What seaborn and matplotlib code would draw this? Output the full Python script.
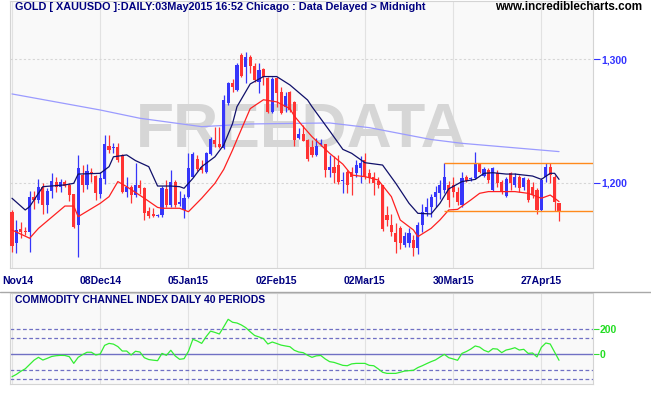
import numpy as np
import pandas as pd
import matplotlib
matplotlib.use("Agg")
import matplotlib.pyplot as plt
import matplotlib.transforms as mtransforms
from matplotlib.lines import Line2D
import seaborn as sns

# daily candles, Nov 2014 - May 2015 (one per trading day)
opens = [1176.5, 1151.4, 1162.5, 1161.0, 1160.3, 1188.7, 1186.0, 1196.8, 1182.0, 1193.3,
         1200.9, 1196.8, 1200.9, 1198.2, 1190.9, 1165.7, 1206.2, 1198.2, 1209.0, 1205.4,
         1190.6, 1203.0, 1229.7, 1227.9, 1228.7, 1222.4, 1192.8, 1196.8, 1190.0, 1198.2,
         1195.5, 1177.4, 1174.4, 1173.1, 1173.8, 1194.9, 1182.0, 1200.9, 1183.0, 1178.0,
         1188.7, 1204.9, 1219.0, 1213.0, 1209.0, 1223.3, 1234.6, 1231.4, 1228.0, 1264.3,
         1281.0, 1275.0, 1303.4, 1294.0, 1301.6, 1294.5, 1281.9, 1291.8, 1284.6, 1257.6,
         1284.6, 1273.8, 1261.6, 1273.8, 1265.6, 1236.0, 1239.5, 1234.6, 1228.7, 1222.4,
         1231.0, 1231.0, 1210.3, 1213.0, 1214.3, 1201.4, 1209.0, 1209.0, 1207.6, 1211.6,
         1218.4, 1207.6, 1204.9, 1201.7, 1198.2, 1173.9, 1165.7, 1159.0, 1163.0, 1149.6,
         1150.9, 1153.6, 1146.9, 1165.7, 1176.5, 1180.6, 1188.7, 1191.4, 1194.1, 1198.2,
         1198.2, 1192.8, 1182.0, 1204.4, 1203.3, 1203.5, 1215.7, 1205.4, 1210.3, 1194.1,
         1207.6, 1200.9, 1189.2, 1208.1, 1198.2, 1204.9, 1196.8, 1202.2, 1196.8, 1194.1,
         1177.9, 1204.9, 1213.0, 1204.9, 1183.8]
highs = [1177.5, 1169.8, 1168.5, 1164.4, 1193.3, 1193.3, 1202.7, 1199.5, 1196.0, 1208.1,
         1204.9, 1202.7, 1202.2, 1199.5, 1191.0, 1222.5, 1214.3, 1214.9, 1211.6, 1206.2,
         1209.0, 1238.6, 1238.6, 1231.9, 1231.9, 1223.3, 1204.9, 1198.2, 1215.7, 1202.2,
         1196.8, 1180.6, 1179.3, 1175.0, 1197.3, 1202.0, 1210.3, 1202.2, 1193.0, 1191.0,
         1223.8, 1225.2, 1222.4, 1218.4, 1225.2, 1237.3, 1244.9, 1244.9, 1271.0, 1281.9,
         1283.7, 1296.7, 1304.8, 1306.2, 1303.5, 1297.2, 1296.7, 1292.6, 1285.4, 1285.4,
         1285.4, 1277.8, 1273.8, 1274.5, 1266.0, 1244.0, 1246.8, 1235.1, 1234.6, 1236.0,
         1235.0, 1231.5, 1222.4, 1222.0, 1222.4, 1209.0, 1210.3, 1213.0, 1218.0, 1222.0,
         1224.0, 1211.0, 1209.0, 1205.0, 1198.5, 1181.0, 1175.0, 1167.0, 1165.0, 1160.0,
         1163.0, 1158.0, 1168.0, 1183.0, 1188.0, 1191.0, 1197.0, 1202.0, 1216.0, 1201.0,
         1204.9, 1196.8, 1209.0, 1206.2, 1204.4, 1225.2, 1216.2, 1213.0, 1211.6, 1213.0,
         1210.3, 1202.2, 1204.9, 1209.0, 1207.6, 1206.2, 1204.9, 1203.5, 1200.9, 1195.5,
         1203.5, 1215.7, 1215.7, 1206.2, 1183.8]
lows = [1144.1, 1142.8, 1155.0, 1157.7, 1144.0, 1178.5, 1183.3, 1174.7, 1175.2, 1187.4,
        1192.8, 1192.8, 1196.3, 1185.5, 1163.6, 1139.6, 1192.8, 1194.6, 1200.9, 1186.0,
        1187.4, 1199.0, 1223.8, 1223.8, 1217.0, 1191.4, 1188.7, 1183.8, 1188.7, 1191.0,
        1169.8, 1171.2, 1172.0, 1172.0, 1172.5, 1180.6, 1180.6, 1180.6, 1181.0, 1171.2,
        1187.4, 1204.4, 1209.8, 1208.1, 1208.1, 1222.4, 1229.2, 1227.9, 1227.0, 1263.0,
        1273.8, 1274.5, 1285.9, 1280.5, 1288.6, 1281.9, 1273.0, 1279.2, 1256.7, 1256.7,
        1261.6, 1255.8, 1257.6, 1257.6, 1229.7, 1235.1, 1234.1, 1217.9, 1221.1, 1222.0,
        1229.7, 1204.9, 1204.9, 1200.0, 1199.0, 1191.4, 1191.4, 1190.0, 1205.0, 1200.0,
        1203.0, 1200.0, 1190.0, 1196.0, 1161.0, 1165.0, 1157.0, 1143.0, 1146.0, 1148.0,
        1148.0, 1141.0, 1142.0, 1160.0, 1173.0, 1172.0, 1180.0, 1187.0, 1192.0, 1180.0,
        1188.7, 1182.0, 1180.6, 1200.9, 1201.7, 1202.7, 1208.1, 1204.9, 1199.5, 1193.6,
        1196.8, 1190.9, 1188.7, 1194.1, 1196.8, 1192.8, 1194.1, 1184.7, 1187.4, 1174.7,
        1177.4, 1200.9, 1199.5, 1177.4, 1169.3]
closes = [1148.7, 1161.7, 1160.3, 1160.0, 1188.7, 1186.0, 1196.8, 1182.0, 1193.3, 1201.4,
          1196.8, 1200.9, 1197.3, 1190.0, 1164.4, 1211.6, 1198.2, 1209.5, 1206.8, 1191.4,
          1203.5, 1231.1, 1226.5, 1228.4, 1218.4, 1192.8, 1196.8, 1190.0, 1198.2, 1195.5,
          1175.2, 1173.1, 1173.1, 1173.8, 1195.5, 1182.0, 1200.9, 1182.0, 1184.0, 1187.4,
          1211.6, 1223.3, 1210.8, 1210.0, 1223.8, 1235.1, 1231.4, 1228.7, 1267.0, 1280.5,
          1277.8, 1295.3, 1286.4, 1302.1, 1294.5, 1283.2, 1291.3, 1285.9, 1257.6, 1283.7,
          1273.0, 1256.7, 1270.2, 1258.9, 1234.6, 1239.5, 1234.1, 1218.9, 1222.4, 1229.7,
          1231.9, 1210.3, 1213.0, 1207.6, 1200.9, 1201.7, 1198.2, 1205.0, 1214.3, 1215.7,
          1204.9, 1203.5, 1200.0, 1198.2, 1162.2, 1169.8, 1160.3, 1152.3, 1151.0, 1156.8,
          1159.0, 1146.9, 1165.7, 1176.5, 1180.6, 1188.7, 1192.8, 1198.2, 1204.9, 1186.0,
          1192.8, 1184.7, 1203.5, 1201.7, 1203.8, 1215.7, 1209.0, 1210.8, 1202.2, 1211.6,
          1199.5, 1192.8, 1202.7, 1199.5, 1204.9, 1195.5, 1203.5, 1186.0, 1190.0, 1177.9,
          1202.2, 1213.0, 1206.2, 1184.7, 1177.4]

# overlay lines (bar index, price)
upper_idx = [0, 3, 4, 7, 12, 14, 15, 20, 22, 23, 26, 28, 31, 33, 36, 38, 39, 41, 43, 46,
             48, 50, 51, 54, 57, 60, 63, 67, 68, 72, 75, 77, 80, 84, 87, 90, 92, 95, 97,
             99, 102, 105, 107, 109, 112, 114, 118, 120, 122, 123, 124]
upper_val = [1187.4, 1177.9, 1180.6, 1196.8, 1198.2, 1199.5, 1207.0, 1207.6, 1213.0, 1221.0,
             1222.5, 1217.9, 1213.0, 1197.3, 1197.3, 1196.8, 1195.5, 1203.5, 1213.0, 1221.0,
             1230.6, 1248.0, 1261.6, 1280.0, 1286.0, 1286.0, 1279.2, 1267.0, 1261.6, 1242.0,
             1227.0, 1223.8, 1216.2, 1214.3, 1199.5, 1183.3, 1175.2, 1174.7, 1183.3, 1195.0,
             1200.9, 1202.7, 1207.6, 1208.1, 1207.0, 1207.0, 1205.4, 1202.7, 1207.6, 1207.6,
             1202.7]
lower_idx = [0, 4, 6, 12, 14, 15, 20, 22, 24, 26, 30, 33, 34, 38, 40, 43, 46, 48, 50, 51,
             54, 57, 60, 63, 64, 66, 68, 72, 75, 77, 80, 83, 86, 88, 91, 92, 95, 97, 99,
             101, 104, 106, 108, 111, 114, 117, 120, 122, 123, 124]
lower_val = [1161.7, 1155.0, 1163.0, 1181.1, 1181.1, 1172.5, 1183.3, 1188.7, 1200.9, 1196.8,
             1187.4, 1180.0, 1179.3, 1179.3, 1176.5, 1187.4, 1199.5, 1210.8, 1226.5, 1235.0,
             1260.0, 1267.2, 1265.5, 1260.0, 1254.0, 1245.4, 1237.3, 1223.8, 1215.0, 1206.2,
             1204.9, 1202.2, 1188.7, 1169.8, 1161.7, 1156.3, 1163.0, 1169.8, 1177.9, 1178.4,
             1186.0, 1191.4, 1192.8, 1192.8, 1192.8, 1191.4, 1187.4, 1190.0, 1187.4, 1184.7]
long_idx = [0, 20, 29, 43, 54, 72, 81, 95, 102, 124]
long_val = [1271.9, 1258.9, 1252.2, 1245.4, 1247.6, 1248.4, 1244.6, 1235.0, 1231.9, 1225.2]

channel_start = 98
channel_levels = [1215.7, 1177.3]

cci = [-184, -165, -140, -120, -85, -50, -27, -49, -35, -20, -14, -11, -12, -22, -76, -27,
       -5, 14, 14, -8, 0, 70, 86, 80, 60, 24, 24, -8, 22, 16, -30, -45, -50, -54, 5, -11,
       30, -16, -43, -38, 22, 119, 105, 86, 140, 185, 175, 162, 220, 281, 257, 251, 235,
       213, 180, 150, 138, 124, 81, 97, 85, 72, 65, 59, 30, 16, 11, -10, -27, -15, -12,
       -40, -62, -68, -80, -92, -95, -80, -76, -76, -76, -92, -95, -120, -148, -157, -157,
       -157, -148, -138, -135, -132, -110, -95, -78, -62, -48, -25, -3, -30, -40, -51, 5,
       20, 40, 65, 56, 30, 16, 43, 40, 11, 32, 40, 51, 32, 38, 5, 8, -24, 54, 89, 81, 15,
       -51]
cci_dashed = [200, 127, -130, -205]
cci_ticks = [0, 200]

date_ticks = [0, 20, 40, 60, 80, 100, 120]
date_labels = ["Nov14", "08Dec14", "05Jan15", "02Feb15", "02Mar15", "30Mar15", "27Apr15"]
price_ticks = [1200, 1300]
price_labels = ["1,200", "1,300"]

sns.set_style("white")
plt.rcParams['font.family'] = ['Liberation Sans', 'DejaVu Sans']

W, H = 651, 395
fig = plt.figure(figsize=(W / 100, H / 100), dpi=100)
fig.patch.set_facecolor('white')


def box(x0, y0, x1, y1):
    return [x0 / W, 1 - y1 / H, (x1 - x0) / W, (y1 - y0) / H]


navy = '#000080'
ax = fig.add_axes(box(10, 1, 593, 268))
ax2 = fig.add_axes(box(10, 293, 593, 384))
for a in (ax, ax2):
    a.set_facecolor('#f9f9f9')
    for s in a.spines.values():
        s.set_color('#d4d4d4')
        s.set_linewidth(0.8)
    a.set_xlim(-0.45, 131.7)
    for t in date_ticks:
        a.axvline(t, color='#e2e2e2', lw=0.8, zorder=0)

# price panel
df = pd.DataFrame({"o": opens, "h": highs, "l": lows, "c": closes})
df["i"] = np.arange(len(df))
colors = np.where(df.c >= df.o, '#3636fa', '#ff3333')
for p in price_ticks:
    ax.axhline(p, color='#d6d6d6', lw=0.8, ls=(0, (2, 2)), zorder=0)
ax.text((301 - 10) / 583, (268 - 131) / 267, "FREEDATA", transform=ax.transAxes,
        ha='center', va='center', fontsize=45, fontweight='bold', color='#d6d6d6', zorder=1)
ax.vlines(df.i, df.l, df.h, colors=colors, lw=0.9, zorder=3)
body_bottom = df[["o", "c"]].min(axis=1)
body_height = (df.c - df.o).abs().clip(lower=0.8)
ax.bar(df.i, body_height, bottom=body_bottom, width=0.7, color=colors, linewidth=0, zorder=4)

sns.lineplot(x=long_idx, y=long_val, ax=ax, color='#9b9bff', lw=0.9, zorder=2)
sns.lineplot(x=upper_idx, y=upper_val, ax=ax, color='#10106a', lw=0.9, zorder=5)
sns.lineplot(x=lower_idx, y=lower_val, ax=ax, color='#ff2020', lw=0.9, zorder=5)
ax.hlines(channel_levels, channel_start, 131.7, color='#ff8a1c', lw=1.0, zorder=5)

ax.set_ylim(1130.9, 1347.2)
ax.yaxis.tick_right()
ax.set_yticks(price_ticks)
ax.set_yticklabels(price_labels, fontweight='bold')
ax.tick_params(axis='y', length=5, width=0.8, color='#3333ff', labelcolor='#3333ff',
               labelsize=7.5, pad=1)
ax.set_xticks(date_ticks)
ax.set_xticklabels(date_labels, fontweight='bold')
ax.tick_params(axis='x', length=0, labelsize=7.5, labelcolor=navy, pad=6)
first = ax.get_xticklabels()[0]
first.set_ha('left')
first.set_transform(first.get_transform() +
                    mtransforms.ScaledTranslation(-0.10, 0, fig.dpi_scale_trans))
ax.set_xlabel('')
ax.set_ylabel('')

# CCI panel
ax2.axhline(0, color='#7070c4', lw=1.0, zorder=1)
for lvl in cci_dashed:
    ax2.axhline(lvl, color='#7070c4', lw=0.9, ls=(0, (3, 2)), zorder=1)
sns.lineplot(x=np.arange(len(cci)), y=cci, ax=ax2, color='#33ee33', lw=0.9, zorder=3)
ax2.set_ylim(-243, 494)
ax2.yaxis.tick_right()
ax2.set_yticks(cci_ticks)
ax2.set_yticklabels([str(v) for v in cci_ticks], fontweight='bold')
ax2.tick_params(axis='y', length=4, width=0.8, color='#33dd33', labelcolor='#22dd22',
                labelsize=7.5, pad=1)
ax2.set_xticks([])
ax2.set_xlabel('')
ax2.set_ylabel('')

# headers
fig.text(15 / W, 1 - 7.5 / H, "GOLD [ XAUUSDO ]:DAILY:03May2015 16:52 Chicago : Data Delayed > Midnight",
         ha='left', va='center', fontsize=7.8, fontweight='bold', color=navy)
fig.text(642 / W, 1 - 7.5 / H, "www.incrediblecharts.com", ha='right', va='center',
         fontsize=8.4, fontweight='bold', color='black')
fig.text(15 / W, 1 - 300 / H, "COMMODITY CHANNEL INDEX DAILY 40 PERIODS", ha='left',
         va='center', fontsize=7.5, fontweight='bold', color=navy)
fig.add_artist(Line2D([0, 1], [1 - 292 / H] * 2, transform=fig.transFigure,
                      color='#a8a8a8', lw=1))

fig.savefig("out.png", dpi=100, facecolor='white')
